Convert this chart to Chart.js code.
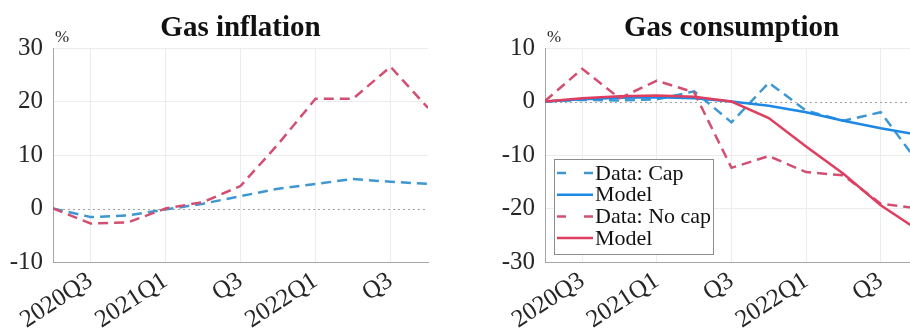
<!DOCTYPE html>
<html lang="en">
<head>
  <meta charset="UTF-8">
  <title>Gas inflation and consumption</title>
  <script src="https://cdn.jsdelivr.net/npm/chart.js"></script>
  <style>
    * {
      margin: 0;
      padding: 0;
      box-sizing: border-box;
    }
    body {
      width: 910px;
      height: 331px;
      overflow: hidden;
      position: relative;
      background-color: #ffffff;
    }
    .panel {
      position: absolute;
      top: 0;
    }
    #left-panel { left: 0; }
    #right-panel { left: 455px; }
  </style>
</head>
<body>
  <div class="panel" id="left-panel">
    <canvas id="inflationChart" width="455" height="331"></canvas>
  </div>
  <div class="panel" id="right-panel">
    <canvas id="consumptionChart" width="465" height="331"></canvas>
  </div>

  <script>
    const quarters = ['2020Q2', '2020Q3', '2020Q4', '2021Q1', '2021Q2', '2021Q3',
                      '2021Q4', '2022Q1', '2022Q2', '2022Q3', '2022Q4'];
    const tickQuarters = ['2020Q3', '2021Q1', '2021Q3', '2022Q1', '2022Q3'];
    const tickLabels = ['2020Q3', '2021Q1', 'Q3', '2022Q1', 'Q3'];

    const inflationYTicks = [-10, 0, 10, 20, 30];
    const consumptionYTicks = [-30, -20, -10, 0, 10];

    // gas inflation, %
    const inflationCap = [0, -1.6, -1.3, -0.2, 0.9, 2.3, 3.7, 4.6, 5.5, 5.0, 4.6];
    const inflationNoCap = [0, -2.8, -2.6, 0, 1.2, 4.2, 12.0, 20.5, 20.5, 26.5, 18.8];

    // gas consumption, %
    const consumptionCap = [0, 0.3, 0.2, 0.4, 1.9, -3.9, 3.5, -1.7, -3.6, -2.0, -11.4];
    const consumptionCapModel = [0, 0.4, 0.7, 0.8, 0.6, 0, -0.8, -2.0, -3.6, -5.0, -6.2];
    const consumptionNoCap = [0.1, 6.1, 0.6, 3.9, 1.7, -12.4, -10.2, -13.2, -13.8, -19.1, -20.0];
    const consumptionNoCapModel = [0, 0.6, 1.0, 1.1, 0.9, 0, -3.1, -8.4, -13.5, -19.4, -24.0];

    const blueDash = '#3d97d3';
    const blueSolid = '#1e88e5';
    const redDash = '#d24f72';
    const redSolid = '#e03e5e';

    const serif = '"Liberation Serif", "Times New Roman", serif';
    const textColor = '#262626';
    const tickPos = tickQuarters.map(q => quarters.indexOf(q));

    function toPoints(values) {
      return values.map((v, i) => ({ x: i, y: v }));
    }

    function line(label, values, color, dashed, order) {
      return {
        label: label,
        data: toPoints(values),
        borderColor: color,
        borderWidth: 2.5,
        borderDash: dashed ? [10, 6] : [],
        pointRadius: 0,
        tension: 0,
        fill: false,
        order: order
      };
    }

    // title, % unit and dotted zero line
    const panelDecor = {
      id: 'panelDecor',
      beforeDatasetsDraw(chart) {
        const ctx = chart.ctx;
        const area = chart.chartArea;
        const y0 = chart.scales.y.getPixelForValue(0);
        ctx.save();
        ctx.strokeStyle = '#a0a0a0';
        ctx.lineWidth = 1;
        ctx.setLineDash([2, 3]);
        ctx.beginPath();
        ctx.moveTo(area.left, Math.round(y0) + 0.5);
        ctx.lineTo(area.right, Math.round(y0) + 0.5);
        ctx.stroke();
        ctx.restore();
      },
      afterDraw(chart, args, opts) {
        const ctx = chart.ctx;
        const area = chart.chartArea;
        ctx.save();
        ctx.fillStyle = '#111111';
        ctx.font = 'bold 29px ' + serif;
        ctx.textAlign = 'center';
        ctx.textBaseline = 'alphabetic';
        ctx.fillText(opts.title, (area.left + area.right) / 2, 36);
        ctx.fillStyle = textColor;
        ctx.font = '17px ' + serif;
        ctx.textAlign = 'left';
        ctx.fillText('%', area.left + 2, 42);
        ctx.restore();
      }
    };

    // boxed legend inside the plot
    const boxLegend = {
      id: 'boxLegend',
      afterDatasetsDraw(chart) {
        const ctx = chart.ctx;
        const area = chart.chartArea;
        const left = area.left + 9;
        const top = area.top + 111;
        ctx.save();
        ctx.fillStyle = '#ffffff';
        ctx.fillRect(left, top, 159, 95);
        ctx.strokeStyle = '#8c8c8c';
        ctx.lineWidth = 1;
        ctx.strokeRect(left + 0.5, top + 0.5, 159, 95);
        ctx.font = '22px ' + serif;
        ctx.textBaseline = 'middle';
        chart.data.datasets.forEach((ds, i) => {
          const y = top + 14 + i * 21.7;
          ctx.strokeStyle = ds.borderColor;
          ctx.lineWidth = 2.5;
          ctx.setLineDash(ds.borderDash.length ? [9, 18] : []);
          ctx.beginPath();
          ctx.moveTo(left + 3, y);
          ctx.lineTo(left + 39, y);
          ctx.stroke();
          ctx.setLineDash([]);
          ctx.fillStyle = '#111111';
          ctx.fillText(ds.label, left + 41, y + 1);
        });
        ctx.restore();
      }
    };

    function makeOptions(title, yTicks, yWidth, padRight) {
      return {
        responsive: false,
        animation: false,
        layout: { padding: { top: 48, right: padRight, left: 0, bottom: 0 } },
        plugins: {
          legend: { display: false },
          tooltip: { enabled: false },
          panelDecor: { title: title }
        },
        scales: {
          x: {
            type: 'linear',
            min: 0,
            max: quarters.length - 1,
            afterBuildTicks: s => { s.ticks = tickPos.map(v => ({ value: v })); },
            afterFit: s => { s.height = 69; },
            grid: { color: '#ececec', drawTicks: false },
            border: { color: '#a6a6a6' },
            ticks: {
              color: textColor,
              font: { family: serif, size: 25 },
              minRotation: 33,
              maxRotation: 33,
              padding: 4,
              callback: v => tickLabels[tickPos.indexOf(v)]
            }
          },
          y: {
            min: yTicks[0],
            max: yTicks[yTicks.length - 1],
            afterBuildTicks: s => { s.ticks = yTicks.map(v => ({ value: v })); },
            afterFit: s => { s.width = yWidth; },
            grid: {
              color: c => (c.tick && c.tick.value === 0) ? 'rgba(0,0,0,0)' : '#ececec',
              drawTicks: false
            },
            border: { color: '#a6a6a6' },
            ticks: {
              color: textColor,
              font: { family: serif, size: 25 },
              padding: 10
            }
          }
        }
      };
    }

    new Chart(document.getElementById('inflationChart').getContext('2d'), {
      type: 'line',
      data: {
        datasets: [
          line('Data: Cap', inflationCap, blueDash, true, 2),
          line('Data: No cap', inflationNoCap, redDash, true, 1)
        ]
      },
      options: makeOptions('Gas inflation', inflationYTicks, 53, 27),
      plugins: [panelDecor]
    });

    new Chart(document.getElementById('consumptionChart').getContext('2d'), {
      type: 'line',
      data: {
        datasets: [
          line('Data: Cap', consumptionCap, blueDash, true, 4),
          line('Model', consumptionCapModel, blueSolid, false, 3),
          line('Data: No cap', consumptionNoCap, redDash, true, 2),
          line('Model', consumptionNoCapModel, redSolid, false, 1)
        ]
      },
      options: makeOptions('Gas consumption', consumptionYTicks, 90, 2),
      plugins: [panelDecor, boxLegend]
    });
  </script>
</body>
</html>
